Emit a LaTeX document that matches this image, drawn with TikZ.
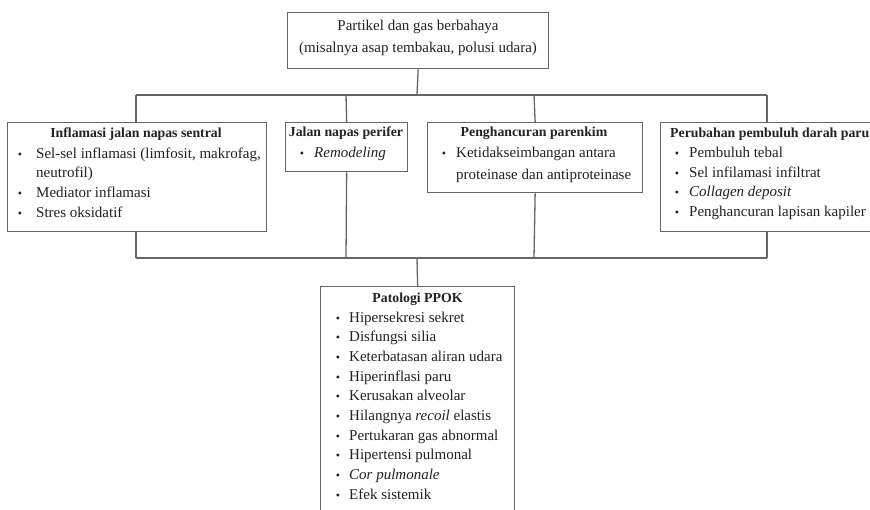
\documentclass[tikz,border=0pt]{standalone}
\usepackage{fontspec}
\setmainfont{Liberation Serif}
\newcommand\myfs{\fontsize{15}{18}\selectfont}
\newcommand\myhfs{\fontsize{13.8}{17}\selectfont}
\definecolor{linegray}{HTML}{666666}
\definecolor{txtcol}{HTML}{222222}
\begin{document}
\begin{tikzpicture}[x=1pt,y=-1pt,
  box/.style={draw=linegray, line width=1.3pt, inner sep=0pt, anchor=north west, fill=white},
  conn/.style={draw=linegray, line width=1.3pt},
  txt/.style={inner sep=0pt, anchor=mid west, font=\myfs, text=txtcol},
  head/.style={inner sep=0pt, anchor=mid, font=\myhfs\bfseries, text=txtcol},
  bul/.style={inner sep=0pt, anchor=mid, font=\fontsize{12}{14}\selectfont, text=txtcol}]
\useasboundingbox (0,0) rectangle (870,510);
\clip (0,0) rectangle (870,510);
\fill[white] (0,0) rectangle (870,510);

% junctions
\coordinate (j1) at (417,95);
\coordinate (j2) at (417,258);

% boxes
\node[box, minimum width=261pt, minimum height=56pt] (top) at (287,12) {};
\node[box, minimum width=259pt, minimum height=109pt] (b1) at (7,122) {};
\node[box, minimum width=122pt, minimum height=49pt] (b2) at (285,122) {};
\node[box, minimum width=215pt, minimum height=70pt] (b3) at (427,122) {};
\node[box, minimum width=230pt, minimum height=109pt] (b4) at (660,122) {};
\node[box, minimum width=194pt, minimum height=240pt] (b5) at (320,286) {};

% connectors
\draw[conn] (top.south) -- (j1);
\draw[conn] (136,95) -- (767,95);
\draw[conn] (136,95) -- (136,122);
\draw[conn] (346,95) -- (b2.north);
\draw[conn] (534,95) -- (b3.north);
\draw[conn] (767,95) -- (767,122);
\draw[conn] (136,231) -- (136,258);
\draw[conn] (b2.south) -- (346,258);
\draw[conn] (b3.south) -- (534,258);
\draw[conn] (767,231) -- (767,258);
\draw[conn] (136,258) -- (767,258);
\draw[conn] (j2) -- (b5.north);

% top text
\node[head, font=\myfs] (t1) at (418,28) {Partikel dan gas berbahaya};
\node[head, font=\myfs] (t2) at (418,50) {(misalnya asap tembakau, polusi udara)};

% box 1
\node[head] (h1) at (136,135) {Inflamasi jalan napas sentral};
\node[bul] (p11) at (20,156) {•};
\node[txt] (i11) at (36,156) {Sel-sel inflamasi (limfosit, makrofag,};
\node[txt] (i11b) at (36,175) {neutrofil)};
\node[bul] (p12) at (20,195) {•};
\node[txt] (i12) at (36,195) {Mediator inflamasi};
\node[bul] (p13) at (20,215) {•};
\node[txt] (i13) at (36,215) {Stres oksidatif};

% box 2
\node[head] (h2) at (346,134) {Jalan napas perifer};
\node[bul] (p21) at (302,155) {•};
\node[txt] (i21) at (314,155) {\itshape Remodeling};

% box 3
\node[head] (h3) at (534,134) {Penghancuran parenkim};
\node[bul] (p31) at (444,155) {•};
\node[txt] (i31) at (456,155) {Ketidakseimbangan antara};
\node[txt] (i31b) at (456,177) {proteinase dan antiproteinase};

% box 4
\node[head, anchor=mid west] (h4) at (670,135) {Perubahan pembuluh darah paru};
\node[bul] (p41) at (677,155) {•};
\node[txt] (i41) at (689,155) {Pembuluh tebal};
\node[bul] (p42) at (677,175) {•};
\node[txt] (i42) at (689,175) {Sel infilamasi infiltrat};
\node[bul] (p43) at (677,194) {•};
\node[txt] (i43) at (689,194) {\itshape Collagen deposit};
\node[bul] (p44) at (677,214) {•};
\node[txt] (i44) at (689,214) {Penghancuran lapisan kapiler};

% box 5
\node[head] (h5) at (417.5,300) {Patologi PPOK};
\foreach \t [count=\i from 0] in {Hipersekresi sekret, Disfungsi silia, Keterbatasan aliran udara, Hiperinflasi paru, Kerusakan alveolar, Hilangnya \textit{recoil} elastis, Pertukaran gas abnormal, Hipertensi pulmonal, \textit{Cor pulmonale}, Efek sistemik}{
  \node[bul] (pb\i) at (338,320+19.67*\i) {•};
  \node[txt] (ib\i) at (349,320+19.67*\i) {\t};
}
\end{tikzpicture}
\end{document}
